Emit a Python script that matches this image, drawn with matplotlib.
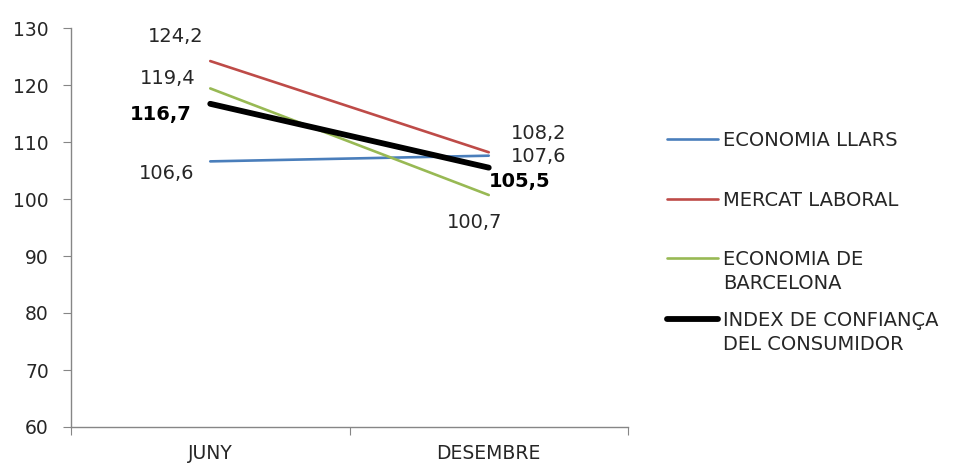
import matplotlib
matplotlib.use("Agg")
import matplotlib.pyplot as plt
from matplotlib.lines import Line2D

categories = ["JUNY", "DESEMBRE"]
series_names = ["ECONOMIA LLARS", "MERCAT LABORAL", "ECONOMIA DE\nBARCELONA",
                "INDEX DE CONFIANÇA\nDEL CONSUMIDOR"]
economia_llars = [106.6, 107.6]
mercat_laboral = [124.2, 108.2]
economia_bcn = [119.4, 100.7]
index_confianca = [116.7, 105.5]
y_ticks = [60, 70, 80, 90, 100, 110, 120, 130]

colors = ["#4A7EBB", "#BE4B48", "#98B954", "#000000"]
widths = [1.9, 1.9, 1.9, 4.2]
all_series = [economia_llars, mercat_laboral, economia_bcn, index_confianca]

# label offsets in pixels (JUNY, DESEMBRE)
offsets = [[(-44, -12), (50, -1)],
           [(-35, 25), (50, 19)],
           [(-43, 10), (-14, -27)],
           [(-50, -11), (31, -14)]]

TXT = '#262626'
plt.rcParams['font.family'] = ['DejaVu Sans']
fig = plt.figure(figsize=(9.59, 4.70), dpi=100)
ax = fig.add_axes([71/959, 43/470, 557/959, 399/470])

xs = [0.5, 1.5]
for name, vals, c, w, offs in zip(series_names, all_series, colors, widths, offsets):
    ax.plot(xs, vals, color=c, lw=w, solid_capstyle='round', label=name)
    bold = (c == "#000000")
    for x, v, o in zip(xs, vals, offs):
        ax.annotate(f"{v:.1f}".replace(".", ","), (x, v), xytext=o,
                    textcoords='offset pixels', ha='center', va='center',
                    fontsize=14, color=TXT if not bold else 'black',
                    fontweight='bold' if bold else 'normal')

ax.set_xlim(0, 2)
ax.set_ylim(60, 130)
ax.set_yticks(y_ticks)
ax.set_xticks([0, 1, 2])
ax.set_xticklabels([])
ax.set_xticks(xs, minor=True)
ax.set_xticklabels(categories, minor=True)
ax.tick_params(axis='x', which='minor', length=0, pad=12, labelsize=13.5, colors=TXT)
ax.tick_params(axis='x', which='major', length=6, color='#868686')
ax.tick_params(axis='y', length=6, color='#868686', labelsize=13.5, labelcolor=TXT, pad=10)
for s in ['top', 'right']:
    ax.spines[s].set_visible(False)
for s in ['left', 'bottom']:
    ax.spines[s].set_color('#868686')
    ax.spines[s].set_linewidth(1.0)

# legend (drawn in figure pixel layout, mimicking the original)
leg_line_y = [139, 199, 258, 319]
for name, c, w, yy in zip(series_names, colors, widths, leg_line_y):
    yf = 1 - yy / 470
    fig.add_artist(Line2D([667/959, 718/959], [yf, yf], color=c, lw=w,
                          solid_capstyle='round', transform=fig.transFigure))
    for i, line in enumerate(name.split("\n")):
        fig.text(723/959, 1 - (yy + 7 + 24 * i) / 470, line, ha='left', va='baseline',
                 fontsize=14, color=TXT, transform=fig.transFigure)

fig.savefig("out.png", dpi=100)
